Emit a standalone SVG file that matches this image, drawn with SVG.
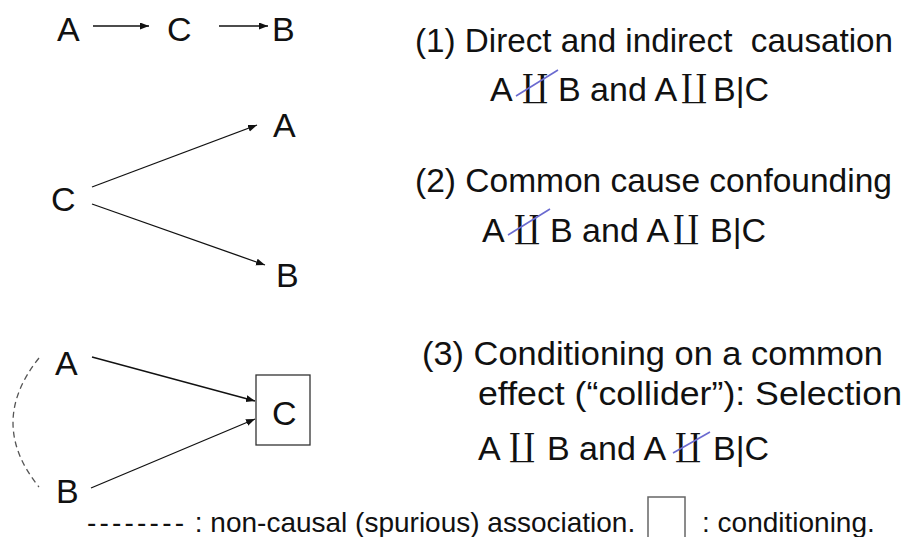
<svg xmlns="http://www.w3.org/2000/svg" width="920" height="537" viewBox="0 0 920 537">
<defs>
<marker id="ah" markerUnits="userSpaceOnUse" markerWidth="10" markerHeight="8" refX="9" refY="3.5" orient="auto">
<path d="M0,0 L9,3.5 L0,7 Z" fill="#111"/>
</marker>
<style>
.t{font-family:"Liberation Sans",Arial,sans-serif;font-size:34px;fill:#111}
.s{font-family:"DejaVu Serif","Liberation Serif",serif;font-size:32px;fill:#111}
.l{font-family:"Liberation Sans",Arial,sans-serif;font-size:28px;fill:#111}
.e{stroke:#111;stroke-width:1.3;fill:none;marker-end:url(#ah)}
.x{stroke:#6a6ad0;stroke-width:1.6}
</style>
</defs>
<rect width="920" height="537" fill="#fff"/>

<g id="connectors">
<line class="e" x1="93" y1="26" x2="149" y2="26"/>
<line class="e" x1="219" y1="26" x2="268" y2="26"/>
<line class="e" x1="92" y1="187" x2="257" y2="125"/>
<line class="e" x1="92" y1="204" x2="265" y2="265"/>
<line class="e" x1="92" y1="357" x2="255" y2="401"/>
<line class="e" x1="91" y1="488" x2="255" y2="419"/>
<path d="M39,358 Q-13,423 39,487" fill="none" stroke="#555" stroke-width="1.3" stroke-dasharray="6,4"/>
</g>

<g id="d1-A"><text class="t" x="57" y="41">A</text></g>
<g id="d1-C"><text class="t" x="167" y="41">C</text></g>
<g id="d1-B"><text class="t" x="272" y="41">B</text></g>

<g id="d2-A"><text class="t" x="273" y="137">A</text></g>
<g id="d2-C"><text class="t" x="51" y="211">C</text></g>
<g id="d2-B"><text class="t" x="276" y="287">B</text></g>

<g id="d3-A"><text class="t" x="55" y="375">A</text></g>
<g id="d3-B"><text class="t" x="56" y="503">B</text></g>
<g id="d3-C">
<rect x="256" y="375" width="54" height="70" fill="#fff" stroke="#333" stroke-width="1.3"/>
<text class="t" x="272" y="425">C</text>
</g>

<g id="case1">
<text class="t" x="415" y="52" textLength="478" lengthAdjust="spacingAndGlyphs">(1) Direct and indirect &#160;causation</text>
<text class="t"><tspan x="490" y="101">A</tspan><tspan class="s" x="535" y="97" text-anchor="middle">∐</tspan><tspan x="558" y="101">B and A</tspan><tspan class="s" x="694" y="97" text-anchor="middle">∐</tspan><tspan x="713" y="101">B|C</tspan></text>
<line class="x" x1="516" y1="96" x2="558" y2="70"/>
</g>

<g id="case2">
<text class="t" x="415" y="192" textLength="477" lengthAdjust="spacingAndGlyphs">(2) Common cause confounding</text>
<text class="t"><tspan x="482" y="242">A</tspan><tspan class="s" x="527" y="238" text-anchor="middle">∐</tspan><tspan x="550" y="242">B and A</tspan><tspan class="s" x="686" y="238" text-anchor="middle">∐</tspan><tspan x="710" y="242">B|C</tspan></text>
<line class="x" x1="508" y1="235" x2="550" y2="209"/>
</g>

<g id="case3">
<text class="t" x="422" y="365" textLength="461" lengthAdjust="spacingAndGlyphs">(3) Conditioning on a common</text>
<text class="t" x="478" y="405" textLength="424" lengthAdjust="spacingAndGlyphs">effect (“collider”): Selection</text>
<text class="t"><tspan x="478" y="460">A</tspan><tspan class="s" x="522" y="456" text-anchor="middle">∐</tspan><tspan x="547" y="460">B and A</tspan><tspan class="s" x="688" y="456" text-anchor="middle">∐</tspan><tspan x="713" y="460">B|C</tspan></text>
<line class="x" x1="673" y1="453" x2="710" y2="432"/>
</g>

<g id="legend">
<text class="l" y="532"><tspan x="87" letter-spacing="3.2">--------</tspan><tspan x="187"> : non-causal (spurious) association.</tspan></text>
<rect x="648" y="497" width="37" height="50" fill="none" stroke="#666" stroke-width="1.5"/>
<text class="l" x="702" y="532">: conditioning.</text>
</g>
</svg>
